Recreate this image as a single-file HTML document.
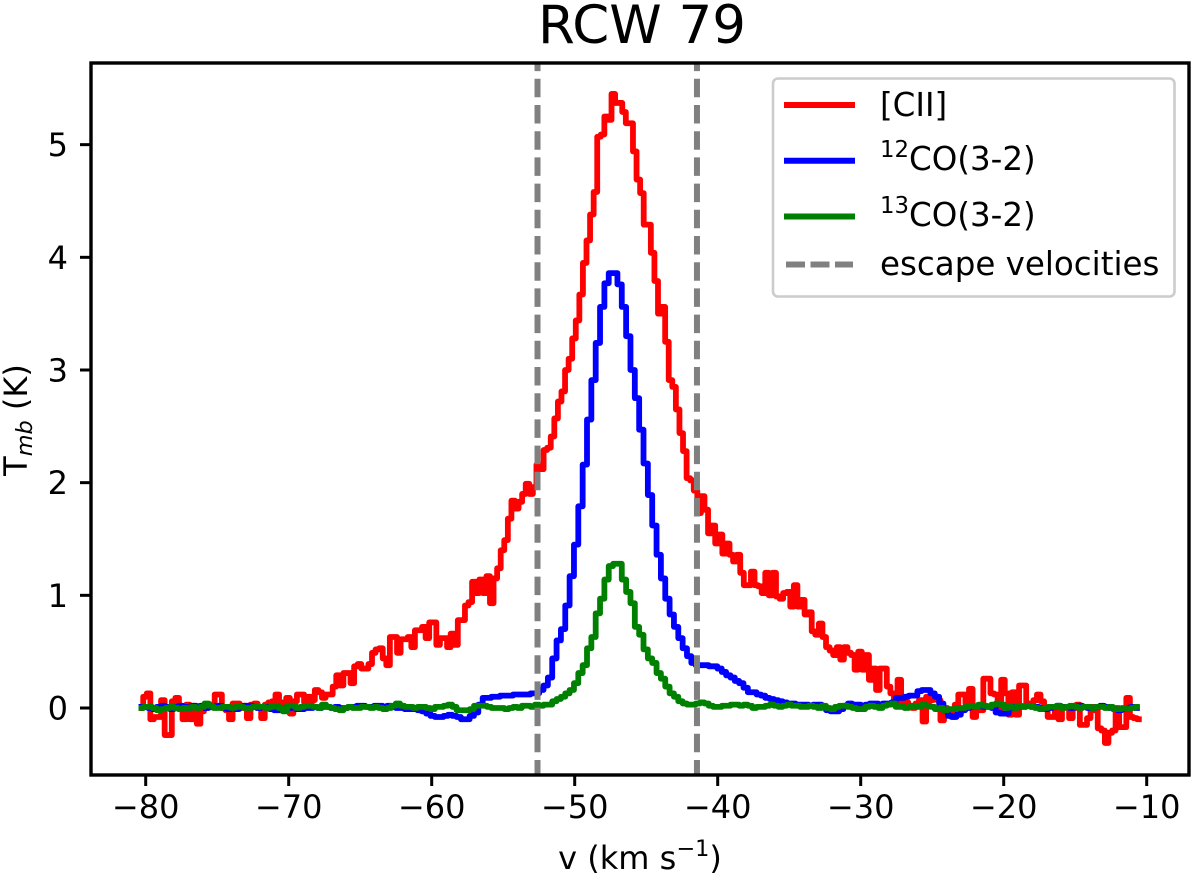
<!DOCTYPE html>
<html lang="en">
<head>
<meta charset="utf-8">
<title>RCW 79</title>
<style>
html,body{margin:0;padding:0;background:#fff;}
svg{display:block;}
text{font-family:"DejaVu Sans","Liberation Sans",sans-serif;fill:#000;}
</style>
</head>
<body>
<svg id="chart" xmlns="http://www.w3.org/2000/svg" width="1200" height="880" viewBox="0 0 1200 880">
  <rect x="0" y="0" width="1200" height="880" fill="#fff"/>
  <defs><clipPath id="plot-clip"><rect x="91" y="63" width="1098" height="712"/></clipPath></defs>
  <text x="642" y="43" font-size="53" text-anchor="middle">RCW 79</text>
  <g id="series-layer" clip-path="url(#plot-clip)"></g>
  <g id="ticks-layer"></g>
  <rect x="91" y="63" width="1098" height="712" fill="none" stroke="#000" stroke-width="3.4"/>
  <text x="640" y="869" font-size="32" text-anchor="middle">v (km s<tspan font-size="22.4" dy="-13">−1</tspan><tspan dy="13">)</tspan></text>
  <text transform="translate(27,420) rotate(-90)" font-size="32" text-anchor="middle">T<tspan font-size="22.4" font-style="italic" dy="5">mb</tspan><tspan dy="-5"> (K)</tspan></text>
  <g>
    <rect x="773" y="78.5" width="401.5" height="218" rx="5" ry="5" fill="#fff" fill-opacity="0.8" stroke="#cccccc" stroke-width="2.6"/>
    <line x1="784" x2="855" y1="105" y2="105" stroke="#ff0000" stroke-width="6"/>
    <text x="880" y="116" font-size="32.5">[CII]</text>
    <line x1="784" x2="855" y1="160.7" y2="160.7" stroke="#0000ff" stroke-width="6"/>
    <text x="880" y="170" font-size="32.5"><tspan font-size="22.8" dy="-13">12</tspan><tspan dy="13">CO(3-2)</tspan></text>
    <line x1="784" x2="855" y1="216.5" y2="216.5" stroke="#008000" stroke-width="6"/>
    <text x="880" y="226" font-size="32.5"><tspan font-size="22.8" dy="-13">13</tspan><tspan dy="13">CO(3-2)</tspan></text>
    <line x1="786" x2="853" y1="264.5" y2="264.5" stroke="#808080" stroke-width="6" stroke-dasharray="19 5.5"/>
    <text x="880" y="275" font-size="32.5">escape velocities</text>
  </g>
</svg>
<script>
const xTickValues = [-80, -70, -60, -50, -40, -30, -20, -10];
const yTickValues = [0, 1, 2, 3, 4, 5];
const escapeVelocities = [-52.6, -41.45];

const ciiStart = -80.3;
const ciiStep = 0.25;
const ciiValues = [
  0,.1,.13,-.1,-.08,-.08,.07,-.24,-.24,.06,
  .09,0,-.1,.03,-.1,.02,-.14,-.03,0,.03,
  .03,.12,.12,0,-.02,-.1,.04,.04,0,.02,
  -.09,.03,.04,0,-.09,.03,.05,.06,.12,.05,
  0,.09,-.05,.06,.12,.12,.05,.1,
  .07,.16,.14,.09,.12,.12,.19,.29,.2,
  .31,.31,.22,.37,.39,.35,.35,.39,.49,
  .52,.53,.44,.38,.63,.63,.49,.61,.61,.63,
  .54,.69,.69,.72,.62,.76,.76,.56,.62,
  .62,.54,.66,.56,.78,.78,.91,.94,1.12,
  1.02,1.14,1.02,1.17,
  .93,1.15,1.24,1.4,1.49,1.68,1.84,1.77,1.83,1.9,
  1.99,1.9,1.96,2.16,2.12,2.29,2.31,2.41,2.57,2.72,
  2.81,3,3.1,3.28,3.44,3.67,3.95,4.15,4.38,4.58,5.07,
  5.09,5.25,5.22,5.45,5.37,5.37,5.29,5.19,5.19,4.94,
  4.69,4.57,4.29,4.29,4.04,3.79,3.5,3.56,3.25,2.91,
  2.85,2.65,2.44,2.28,2.04,2.02,1.93,1.73,1.88,1.76,
  1.55,1.62,1.46,1.54,
  1.37,1.46,1.36,1.3,1.36,1.2,1.09,1.09,1.21,1.09,
  1.08,1.02,1.2,1,1.2,.99,.97,1.02,1.03,.9,
  1.09,.9,.96,.83,.85,.68,.65,.75,.63,.54,
  .51,.47,.54,.43,.54,.49,.47,.34,.5,.34,
  .47,.25,.35,.16,.35,.35,.19,.13,.07,.25,
  .04,.05,
  .02,0,.04,
  .07,-.12,.1,.07,.08,.07,-.11,0,-.02,-.08,
  .03,.12,.12,.04,.17,-.08,-.02,-.02,.26,.26,
  .13,.12,-.02,.25,.13,-.06,.14,-.06,.2,.2,
  .04,.04,.07,.12,.06,0,-.08,-.08,.01,-.1,
  .01,.01,-.09,0,.03,-.15,-.15,-.09,.01,-.02,
  -.18,-.2,-.31,-.22,-.2,0,-.17,-.17,.09,-.08,-.09,-.1
];

const coStart = -80.3;
const coStep = 0.304;
const co12Values = [
  .01,.01,0,-.01,.01,.02,.01,-.01,.01,.02,
  .01,0,.02,.01,.02,0,.01,.02,.02,.01,
  -.01,0,-.01,.01,.02,.02,.01,0,.01,.01,
  -.01,-.02,-.02,0,0,.01,-.01,-.01,0,0,
  .01,0,.01,.01,0,.01,0,0,.01,.01,
  .02,.02,.01,.01,.02,.02,.01,.02,.01,0,
  0,-.01,-.01,-.01,-.02,-.03,-.05,-.07,-.08,-.08,
  -.07,-.06,-.07,-.08,-.1,-.1,-.07,-.04,.03,.09,
  .09,.1,.1,.11,.11,.11,.12,.12,.12,.12,
  .13,.13,.16,.2,.27,.44,.6,.7,.91,1.17,
  1.45,1.79,2.16,2.56,2.91,3.24,3.56,3.77,3.86,3.86,
  3.76,3.56,3.3,3,2.75,2.47,2.17,1.89,1.62,1.36,
  1.15,.97,.83,.72,.62,.53,.46,.4,.38,.38,
  .38,.37,.37,.35,.32,.29,.27,.24,.22,.18,
  .14,.14,.12,.11,.09,.08,.07,.06,.05,.04,
  .04,.03,.03,.03,.02,.03,.03,.01,-.02,-.03,
  -.03,-.01,.02,.04,.03,.03,.02,.03,.04,.04,
  .03,.04,.04,.05,.09,.09,.1,.11,.11,.15,
  .16,.16,.13,.1,.04,-.02,-.07,-.08,-.06,-.02,
  0,.01,.01,.02,.01,.01,0,-.04,-.05,-.05,
  0,.01,.01,.01,.02,.01,.01,0,-.01,0,
  .01,.02,.01,.01,0,.01,.02,.01,0,0,
  .01,.02,.01,0,-.01,-.02,-.01,0,.01,0
];
const co13Values = [
  0,.01,.01,0,-.02,-.01,0,.01,0,-.01,
  0,0,.01,0,.01,.04,.02,0,0,.01,
  .01,0,.01,.01,0,0,.01,.01,.01,0,
  .01,.02,0,-.03,.02,.02,0,.01,.02,.02,
  .01,0,.03,.01,0,-.01,-.02,0,.01,0,
  0,.01,.01,0,.01,0,-.01,0,.02,.04,
  .02,.01,.01,0,.01,.01,0,-.01,.01,.01,
  .02,.03,.01,-.02,-.02,-.02,-.01,.02,.02,.02,
  .01,0,0,0,-.01,0,.01,0,.02,.02,
  .01,.03,.02,.03,.03,.06,.08,.1,.13,.16,
  .22,.31,.38,.53,.63,.84,.97,1.14,1.26,1.28,
  1.28,1.14,1.03,.93,.72,.65,.52,.44,.4,.31,
  .26,.19,.13,.1,.06,.04,.03,.03,.04,.05,
  .04,.02,.01,.01,.02,.02,.03,.03,.02,.03,
  .02,0,.01,.01,.02,.03,.02,.01,.02,.03,
  .02,.02,.01,.01,.02,.01,0,.02,0,-.01,
  .01,.02,.02,.01,0,-.01,-.01,.01,.02,.01,
  0,.02,.03,.04,.01,.01,0,.01,.02,.01,
  .03,.02,.01,-.01,0,-.02,-.01,-.01,0,0,
  .01,.02,.01,.03,.02,.01,.03,.04,.03,0,
  .01,0,.02,.01,.02,.01,0,-.01,0,.01,
  .01,.02,0,.01,.02,.01,0,.01,.01,0,
  .01,.01,0,.01,-.01,-.01,0,-.01,0,.01
];

const NS = 'http://www.w3.org/2000/svg';
const seriesLayer = document.getElementById('series-layer');
const ticksLayer = document.getElementById('ticks-layer');

function xScale(v) { return 145.7 + (v + 80) * 14.3; }
function yScale(t) { return 708 - t * 112.67; }

function stepPath(values, start, step) {
  let d = 'M' + xScale(start).toFixed(2) + ' ' + yScale(values[0]).toFixed(2);
  for (let i = 1; i < values.length; i++) {
    const mid = start + (i - 0.5) * step;
    d += 'H' + xScale(mid).toFixed(2) + 'V' + yScale(values[i]).toFixed(2);
  }
  d += 'H' + xScale(start + (values.length - 1) * step).toFixed(2);
  return d;
}

function addSeries(name, values, start, step, color) {
  const p = document.createElementNS(NS, 'path');
  p.setAttribute('d', stepPath(values, start, step));
  p.setAttribute('fill', 'none');
  p.setAttribute('stroke', color);
  p.setAttribute('stroke-width', '5.8');
  p.setAttribute('stroke-linejoin', 'round');
  p.setAttribute('stroke-linecap', 'square');
  
  
  seriesLayer.appendChild(p);
}

addSeries('cii-series', ciiValues, ciiStart, ciiStep, '#ff0000');
addSeries('co12-series', co12Values, coStart, coStep, '#0000ff');
addSeries('co13-series', co13Values, coStart, coStep, '#008000');

escapeVelocities.forEach(function (v) {
  const l = document.createElementNS(NS, 'line');
  l.setAttribute('x1', xScale(v));
  l.setAttribute('x2', xScale(v));
  l.setAttribute('y1', 52.6);
  l.setAttribute('y2', 790);
  l.setAttribute('stroke', '#808080');
  l.setAttribute('stroke-width', '6');
  l.setAttribute('stroke-dasharray', '18.5 7.7');
  
  
  seriesLayer.appendChild(l);
});

xTickValues.forEach(function (v) {
  const t = document.createElementNS(NS, 'line');
  t.setAttribute('x1', xScale(v));
  t.setAttribute('x2', xScale(v));
  t.setAttribute('y1', 775);
  t.setAttribute('y2', 786);
  t.setAttribute('stroke', '#000');
  t.setAttribute('stroke-width', '3');
  
  
  ticksLayer.appendChild(t);
  const s = document.createElementNS(NS, 'text');
  s.setAttribute('x', xScale(v));
  s.setAttribute('y', 818);
  s.setAttribute('font-size', '32');
  s.setAttribute('text-anchor', 'middle');
  
  
  s.textContent = String(v).replace('-', '\u2212');
  ticksLayer.appendChild(s);
});

yTickValues.forEach(function (v) {
  const t = document.createElementNS(NS, 'line');
  t.setAttribute('x1', 80);
  t.setAttribute('x2', 91);
  t.setAttribute('y1', yScale(v));
  t.setAttribute('y2', yScale(v));
  t.setAttribute('stroke', '#000');
  t.setAttribute('stroke-width', '3');
  
  
  ticksLayer.appendChild(t);
  const s = document.createElementNS(NS, 'text');
  s.setAttribute('x', 68);
  s.setAttribute('y', yScale(v) + 11.5);
  s.setAttribute('font-size', '32');
  s.setAttribute('text-anchor', 'end');
  
  
  s.textContent = String(v);
  ticksLayer.appendChild(s);
});
</script>
</body>
</html>
